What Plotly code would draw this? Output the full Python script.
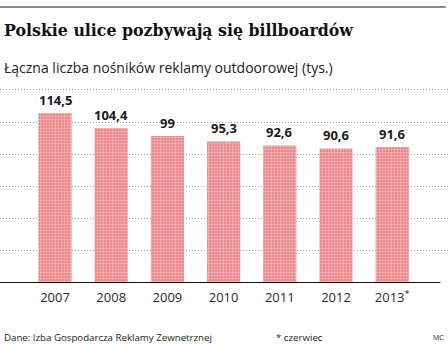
import plotly.graph_objects as go

years = ["2007", "2008", "2009", "2010", "2011", "2012", "2013<sup>*</sup>"]
values = [114.5, 104.4, 99, 95.3, 92.6, 90.6, 91.6]
labels = ["114,5", "104,4", "99", "95,3", "92,6", "90,6", "91,6"]

title = "Polskie ulice pozbywają się billboardów"
subtitle = "Łączna liczba nośników reklamy outdoorowej (tys.)"
source = "Dane: Izba Gospodarcza Reklamy Zewnetrznej"
note = "* czerwiec"
author = "MC"

W, H = 448, 344
T, B = 88, 61
PH = H - T - B  # plot height in px

fig = go.Figure()
fig.add_trace(go.Bar(
    x=list(range(len(years))), y=values, width=0.59,
    marker=dict(color="#ee8f93", line=dict(width=0),
                pattern=dict(shape="+", fgcolor="#fde9e9", bgcolor="#ec8488",
                             size=3, solidity=0.4)),
    hoverinfo="skip",
))

for i, (v, t) in enumerate(zip(values, labels)):
    fig.add_annotation(x=i, y=v, text=t, showarrow=False, yanchor="middle",
                       yshift=13, font=dict(family="Open Sans", size=13,
                                            color="#1a1a1a", weight="bold"))

fig.add_shape(type="line", xref="paper", yref="y", x0=0, x1=0.983, y0=0, y1=0,
              line=dict(color="#111111", width=2))
fig.add_shape(type="line", xref="paper", yref="paper", x0=0, x1=0.995,
              y0=1 + 81 / PH, y1=1 + 81 / PH, line=dict(color="#8a8a8a", width=2))

fig.add_annotation(xref="paper", yref="paper", x=0.004, y=1 + 57 / PH,
                   text=title, showarrow=False, xanchor="left", yanchor="middle",
                   font=dict(family="DejaVu Serif", size=15.8, color="#111111",
                             weight="bold"))
fig.add_annotation(xref="paper", yref="paper", x=0.004, y=1 + 20 / PH,
                   text=subtitle, showarrow=False, xanchor="left", yanchor="middle",
                   font=dict(family="Open Sans", size=14, color="#222222"))
fig.add_annotation(xref="paper", yref="paper", x=0.004, y=-54 / PH,
                   text=source, showarrow=False, xanchor="left", yanchor="middle",
                   font=dict(family="Open Sans", size=9.7, color="#222222"))
fig.add_annotation(xref="paper", yref="paper", x=274 / W, y=-54 / PH,
                   text=note, showarrow=False, xanchor="left", yanchor="middle",
                   font=dict(family="Open Sans", size=9.7, color="#222222"))
fig.add_annotation(xref="paper", yref="paper", x=0.995, y=-54 / PH,
                   text=author, showarrow=False, xanchor="right", yanchor="middle",
                   font=dict(family="Open Sans", size=7, color="#222222"))

fig.update_layout(
    width=W, height=H, margin=dict(l=0, r=0, t=T, b=B),
    paper_bgcolor="white", plot_bgcolor="white", showlegend=False,
    bargap=0.41,
)
fig.update_xaxes(range=[-0.979, 6.993], tickvals=list(range(len(years))),
                 ticktext=years, showgrid=False, zeroline=False, ticks="",
                 tickfont=dict(family="Open Sans", size=13, color="#2a2a2a"),
                 ticklabelstandoff=5, showline=False)
fig.update_yaxes(range=[0, 131.3], dtick=130 / 6, tick0=0, showticklabels=False,
                 showgrid=True, gridcolor="#a0a0a0", griddash="1px,2px", gridwidth=1,
                 zeroline=False, showline=False)

fig.write_html("out.html")
